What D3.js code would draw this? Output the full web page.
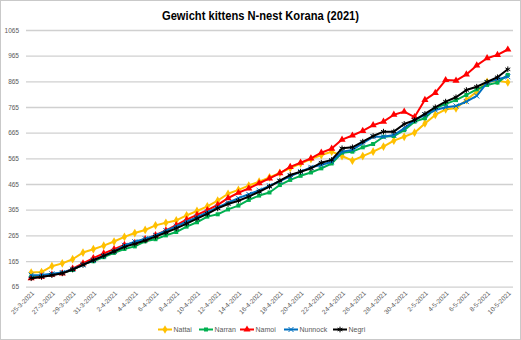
<!DOCTYPE html>
<html>
<head>
<meta charset="utf-8">
<script src="https://cdn.jsdelivr.net/npm/d3@7"></script>
<style>
  body { margin: 0; background: #fff; }
  svg { display: block; }
  text { font-family: "Liberation Sans", Arial, sans-serif; }
</style>
</head>
<body>
<svg id="chart" width="521" height="340"></svg>
<script>
// Weighing dates (one entry per day)
const dates = [
  "25-3-2021","26-3-2021","27-3-2021","28-3-2021","29-3-2021","30-3-2021","31-3-2021",
  "1-4-2021","2-4-2021","3-4-2021","4-4-2021","5-4-2021","6-4-2021","7-4-2021","8-4-2021",
  "9-4-2021","10-4-2021","11-4-2021","12-4-2021","13-4-2021","14-4-2021","15-4-2021",
  "16-4-2021","17-4-2021","18-4-2021","19-4-2021","20-4-2021","21-4-2021","22-4-2021",
  "23-4-2021","24-4-2021","25-4-2021","26-4-2021","27-4-2021","28-4-2021","29-4-2021",
  "30-4-2021","1-5-2021","2-5-2021","3-5-2021","4-5-2021","5-5-2021","6-5-2021",
  "7-5-2021","8-5-2021","9-5-2021","10-5-2021"
];

// Weights in grams per kitten
const nattai = [120,122,145,156,172,198,211,225,241,259,274,286,304,314,323,343,360,378,400,427,442,459,474,491,508,527,545,562,578,591,574,556,574,591,611,634,649,665,701,734,756,760,792,825,863,867,861];
const narran = [104,107,113,118,130,153,164,180,197,212,222,242,250,265,278,299,316,338,347,366,381,403,420,432,461,481,497,510,526,545,587,591,608,621,649,652,675,708,721,760,777,792,812,834,851,860,890];
const namoi  = [98,104,112,117,135,156,176,195,211,228,236,250,266,284,305,326,345,363,384,410,431,448,468,487,507,532,548,565,587,603,638,654,672,694,708,735,747,726,793,820,870,868,892,927,955,968,989];
const nunnock= [110,111,115,120,133,150,168,185,203,226,240,252,265,283,300,318,336,355,374,392,410,425,440,458,476,495,513,530,539,552,591,598,624,649,649,656,682,714,734,753,764,769,786,808,860,873,883];
const negri  = [98,103,110,117,132,150,168,185,202,220,232,245,260,276,292,311,330,349,370,387,400,416,435,455,478,500,513,526,548,559,604,608,630,652,669,669,699,714,738,764,786,803,831,844,863,881,912];

const yTicks = [65,165,265,365,465,565,665,765,865,965,1065];
const xTickLabels = dates.filter((d, i) => i % 2 === 0);

const seriesNames = ["Nattai","Narran","Namoi","Nunnock","Negri"];
const seriesValues = [nattai, narran, namoi, nunnock, negri];
const seriesColors = ["#FFC000","#00B050","#FF0000","#0070C0","#000000"];
const seriesSymbols = [d3.symbolDiamond, d3.symbolSquare, d3.symbolTriangle, d3.symbolX, d3.symbolAsterisk];
const symbolFilled = [true, true, true, false, false];
const symbolSizes = [22, 16, 22, 18, 22];

const svg = d3.select("#chart");
const W = 521, H = 340;
const plot = { left: 26, right: 513, top: 30, bottom: 286.7 };

// Chart frame
svg.append("rect")
  .attr("x", 0.5).attr("y", 0.5).attr("width", W - 1).attr("height", H - 1)
  .attr("fill", "#fff").attr("stroke", "#c9c9c9").attr("stroke-width", 1);

// Title
svg.append("text")
  .attr("x", 260.5).attr("y", 19.5)
  .attr("text-anchor", "middle")
  .attr("font-size", 13).attr("font-weight", "bold").attr("fill", "#000")
  .attr("textLength", 197).attr("lengthAdjust", "spacingAndGlyphs")
  .text("Gewicht kittens N-nest Korana (2021)");

const x = d3.scalePoint().domain(dates).range([plot.left, plot.right]).padding(0.5);
const y = d3.scaleLinear().domain([65, 1065]).range([plot.bottom, plot.top]);

// Horizontal gridlines + value labels
const yAxis = svg.append("g")
  .attr("transform", `translate(${plot.left},0)`)
  .call(d3.axisLeft(y).tickValues(yTicks).tickSize(-(plot.right - plot.left)).tickPadding(7).tickFormat(d3.format("d")));
yAxis.select(".domain").remove();
yAxis.selectAll(".tick line").attr("stroke", "#d0d0d0").attr("stroke-width", 1.3);
yAxis.selectAll(".tick text").attr("font-size", 6.5).attr("fill", "#595959")
  .attr("font-family", "Liberation Sans, Arial, sans-serif");

// Date labels along the bottom
const xAxis = svg.append("g")
  .attr("transform", `translate(0,${plot.bottom})`)
  .call(d3.axisBottom(x).tickValues(xTickLabels).tickSize(0).tickPadding(0));
xAxis.select(".domain").remove();
xAxis.selectAll(".tick text")
  .attr("font-size", 6.5).attr("fill", "#595959")
  .attr("font-family", "Liberation Sans, Arial, sans-serif")
  .attr("text-anchor", "end")
  .attr("dy", null).attr("y", 0)
  .attr("transform", "translate(3,7) rotate(-45)");

// Series lines and markers
const line = d3.line().x((d, i) => x(dates[i])).y(d => y(d));
seriesValues.forEach((vals, s) => {
  const g = svg.append("g");
  g.append("path")
    .attr("d", line(vals))
    .attr("fill", "none")
    .attr("stroke", seriesColors[s])
    .attr("stroke-width", 2)
    .attr("stroke-linejoin", "round");
  const sym = d3.symbol().type(seriesSymbols[s]).size(symbolSizes[s]);
  g.selectAll("path.m")
    .data(vals)
    .join("path")
    .attr("class", "m")
    .attr("transform", (d, i) => `translate(${x(dates[i])},${y(d)})`)
    .attr("d", sym)
    .attr("fill", symbolFilled[s] ? seriesColors[s] : "none")
    .attr("stroke", seriesColors[s])
    .attr("stroke-width", symbolFilled[s] ? 0 : 1);
});

// Legend
const legendX = [158, 199, 240, 284, 333];
const legend = svg.append("g").attr("transform", "translate(0,329.5)");
seriesNames.forEach((name, s) => {
  const lg = legend.append("g").attr("transform", `translate(${legendX[s]},0)`);
  lg.append("line").attr("x1", 0).attr("x2", 14).attr("y1", 0).attr("y2", 0)
    .attr("stroke", seriesColors[s]).attr("stroke-width", 2);
  lg.append("path")
    .attr("transform", "translate(7,0)")
    .attr("d", d3.symbol().type(seriesSymbols[s]).size(symbolSizes[s])())
    .attr("fill", symbolFilled[s] ? seriesColors[s] : "none")
    .attr("stroke", seriesColors[s])
    .attr("stroke-width", symbolFilled[s] ? 0 : 1);
  lg.append("text").attr("x", 15.5).attr("y", 2.4)
    .attr("font-size", 7).attr("fill", "#595959").text(name);
});
</script>
</body>
</html>
